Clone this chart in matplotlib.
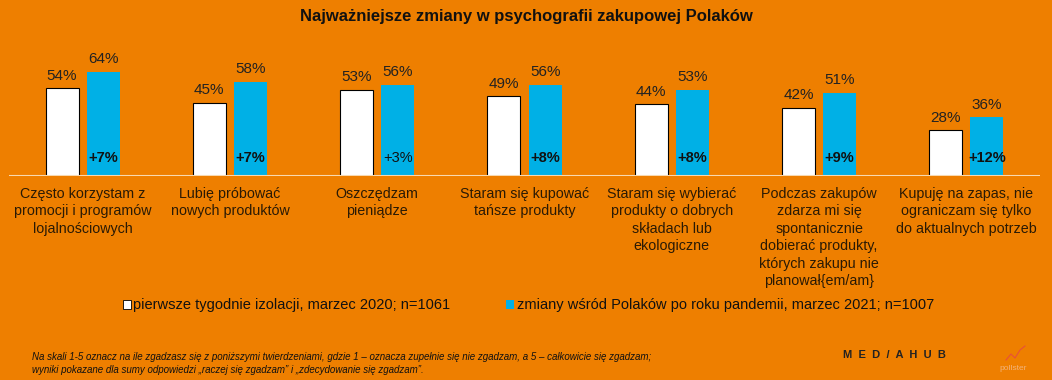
import matplotlib.pyplot as plt
import numpy as np

plt.rcParams['font.family'] = ['Liberation Sans', 'DejaVu Sans']

categories = [
    "Często korzystam z\npromocji i programów\nlojalnościowych",
    "Lubię próbować\nnowych produktów",
    "Oszczędzam\npieniądze",
    "Staram się kupować\ntańsze produkty",
    "Staram się wybierać\nprodukty o dobrych\nskładach lub\nekologiczne",
    "Podczas zakupów\nzdarza mi się\nspontanicznie\ndobierać produkty,\nktórych zakupu nie\nplanował{em/am}",
    "Kupuję na zapas, nie\nograniczam się tylko\ndo aktualnych potrzeb",
]
values_2020 = [54, 45, 53, 49, 44, 42, 28]
values_2021 = [64, 58, 56, 56, 53, 51, 36]
deltas = ["+7%", "+7%", "+3%", "+8%", "+8%", "+9%", "+12%"]
delta_bold = [True, True, False, True, True, True, True]

series_names = ["pierwsze tygodnie izolacji, marzec 2020; n=1061",
                "zmiany wśród Polaków po roku pandemii, marzec 2021; n=1007"]

bg = "#EE7F00"
blue = "#00B0E6"

fig = plt.figure(figsize=(10.52, 3.8), dpi=100, facecolor=bg)
ax = fig.add_axes([9 / 1052, 1 - 176 / 380, 1031 / 1052, 114 / 380])
ax.set_facecolor(bg)

x = np.arange(len(categories))
w = 0.224
off = 0.14
ax.bar(x - off, values_2020, w, color="white", edgecolor="black", linewidth=0.8, zorder=3)
ax.bar(x + off, values_2021, w, color=blue, zorder=3)

for i in range(len(x)):
    ax.annotate(f"{values_2020[i]}%", (x[i] - off, values_2020[i]), xytext=(0, 4),
                textcoords="offset points", ha="center", va="bottom", fontsize=11, color="#222222")
    ax.annotate(f"{values_2021[i]}%", (x[i] + off, values_2021[i]), xytext=(0, 4),
                textcoords="offset points", ha="center", va="bottom", fontsize=11, color="#222222")
    ax.text(x[i] + off, 11, deltas[i], ha="center", va="center", fontsize=10.5,
            fontweight="bold" if delta_bold[i] else "normal", color="#111111", zorder=4)
    ax.text(x[i], -6.5, categories[i], ha="center", va="top", fontsize=10.3,
            color="#2a1a05", linespacing=1.32)

ax.set_xlim(-0.5, len(categories) - 0.5)
ax.set_ylim(0, 70)
ax.axhline(0, color="#F8D9B0", linewidth=1.5, zorder=4)
for s in ax.spines.values():
    s.set_visible(False)
ax.set_xticks([])
ax.set_yticks([])

fig.text(0.5, 1 - 16 / 380, "Najważniejsze zmiany w psychografii zakupowej Polaków",
         ha="center", va="center", fontsize=12, fontweight="bold", color="#111111")

# legend
fig.patches.append(plt.Rectangle((123 / 1052, 1 - 309 / 380), 8 / 1052, 9 / 380,
                                 facecolor="white", edgecolor="black", linewidth=0.6,
                                 transform=fig.transFigure, figure=fig))
fig.text(133 / 1052, 1 - 305 / 380, series_names[0], ha="left", va="center",
         fontsize=10.5, color="#111111")
fig.patches.append(plt.Rectangle((506 / 1052, 1 - 309 / 380), 8 / 1052, 9 / 380,
                                 facecolor=blue, edgecolor="none",
                                 transform=fig.transFigure, figure=fig))
fig.text(517 / 1052, 1 - 305 / 380, series_names[1], ha="left", va="center",
         fontsize=10.5, color="#111111")

fig.text(32 / 1052, 1 - 357 / 380,
         "Na skali 1-5 oznacz na ile zgadzasz się z poniższymi twierdzeniami, gdzie 1 – oznacza zupełnie się nie zgadzam, a 5 – całkowicie się zgadzam;",
         ha="left", va="center", fontsize=7, style="italic", color="#111111")
fig.text(32 / 1052, 1 - 370 / 380,
         "wyniki pokazane dla sumy odpowiedzi „raczej się zgadzam” i „zdecydowanie się zgadzam”.",
         ha="left", va="center", fontsize=7, style="italic", color="#111111")
fig.text(894 / 1052, 1 - 355 / 380, "M  E  D  /  A  H  U  B", ha="center", va="center",
         fontsize=8, fontweight="bold", color="#222222")
fig.text(1013 / 1052, 1 - 369 / 380, "pollster", ha="center", va="center",
         fontsize=6, color="#F2B37A")
fig.lines.append(plt.Line2D([1006 / 1052, 1011 / 1052, 1015 / 1052, 1020 / 1052, 1025 / 1052],
                            [1 - 360 / 380, 1 - 354 / 380, 1 - 358 / 380, 1 - 350 / 380, 1 - 346 / 380],
                            color="#E8503A", linewidth=0.8, transform=fig.transFigure))

fig.savefig("out.png", dpi=100, facecolor=bg)
